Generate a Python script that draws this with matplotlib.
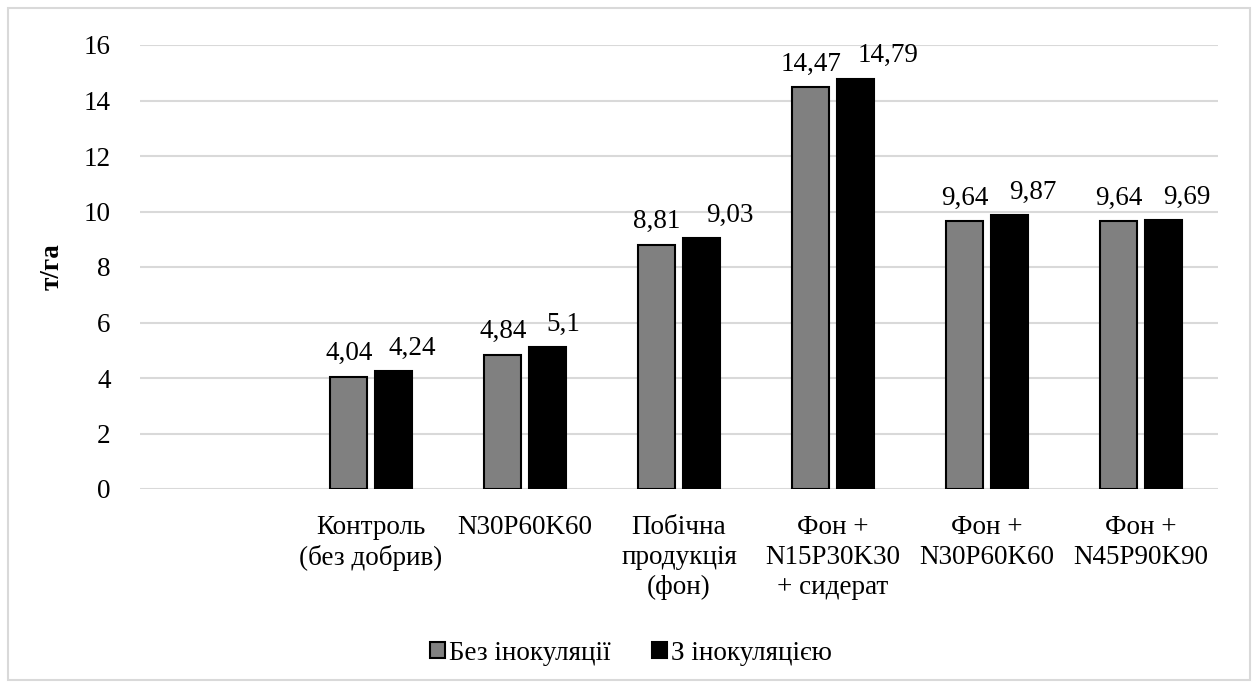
import matplotlib
matplotlib.use("Agg")
import matplotlib.pyplot as plt
from matplotlib.patches import Rectangle
import numpy as np

plt.rcParams['font.family'] = 'serif'
plt.rcParams['font.serif'] = ['Liberation Serif']
FAM = 'Liberation Serif'

categories = ["", "Контроль\n(без добрив)", "N30P60K60", "Побічна\nпродукція\n(фон)",
              "Фон +\nN15P30K30\n+ сидерат", "Фон +\nN30P60K60", "Фон +\nN45P90K90"]
without_inoc = [None, 4.04, 4.84, 8.81, 14.47, 9.64, 9.64]
with_inoc = [None, 4.24, 5.10, 9.03, 14.79, 9.87, 9.69]
labels_without = ["", "4,04", "4,84", "8,81", "14,47", "9,64", "9,64"]
labels_with = ["", "4,24", "5,1", "9,03", "14,79", "9,87", "9,69"]
series_names = ["Без інокуляції", "З інокуляцією"]
yticks = [0, 2, 4, 6, 8, 10, 12, 14, 16]

# label horizontal nudges (points) for the second series, as placed in the original
nudge_with = [0, 14, 12, 21, 24, 17, 17]

FS = 19.5
PX = 72 / 100  # points per pixel

fig = plt.figure(figsize=(12.57, 6.88), dpi=100)
ax = fig.add_axes([140/1257, 1-489/688, 1078/1257, 444/688])

x = np.arange(len(categories))
w = 0.24
off = 0.143
idx = [i for i in range(len(categories)) if without_inoc[i] is not None]
xa = np.array(idx)
va = [without_inoc[i] for i in idx]
vb = [with_inoc[i] for i in idx]
b1 = ax.bar(xa - off, va, w, color='#808080', edgecolor='black', linewidth=1.5, label=series_names[0], zorder=3)
b2 = ax.bar(xa + off, vb, w, color='black', edgecolor='black', linewidth=1.5, label=series_names[1], zorder=3)
for i, xi in enumerate(xa):
    ax.annotate(labels_without[idx[i]], (xi - off, va[i]), xytext=(0, 23 * PX), textcoords='offset points',
                ha='center', va='center', fontsize=FS, family=FAM)
    ax.annotate(labels_with[idx[i]], (xi + off, vb[i]), xytext=(nudge_with[idx[i]], 23 * PX),
                textcoords='offset points', ha='center', va='center', fontsize=FS, family=FAM)

ax.set_xlim(-0.5, len(categories) - 0.5)
ax.set_ylim(0, 16)
ax.set_yticks(yticks)
ax.set_yticklabels([str(t) for t in yticks], fontsize=FS, family=FAM)
ax.set_xticks(x)
ax.set_xticklabels(categories, fontsize=FS, family=FAM, linespacing=1.25, va='top')
ax.tick_params(axis='both', length=0)
ax.tick_params(axis='y', pad=21)
ax.tick_params(axis='x', pad=19)
ax.grid(axis='y', color='#d9d9d9', linewidth=1.5, zorder=0)
for s in ax.spines.values():
    s.set_visible(False)
ax.set_ylabel("т/га", fontsize=FS, fontweight='bold', family=FAM, labelpad=14)

leg = fig.legend(handles=[b1, b2], labels=series_names, loc='center', bbox_to_anchor=(631/1257, 1-653/688),
                 ncol=2, frameon=False, prop={'family': FAM, 'size': FS}, handlelength=0.55, handleheight=0.55,
                 handletextpad=0.15, columnspacing=1.5)

fig.patches.append(Rectangle((8/1257, 8/688), 1242/1257, 672/688, transform=fig.transFigure,
                             fill=False, edgecolor='#d9d9d9', linewidth=1.5))

fig.savefig("out.png", dpi=100)
